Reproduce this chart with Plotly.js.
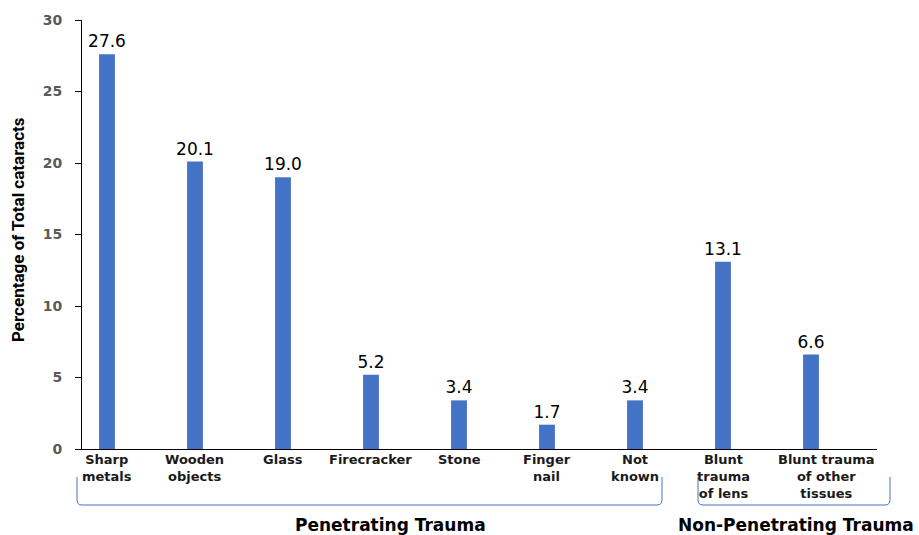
<!DOCTYPE html>
<html>
<head>
<meta charset="utf-8">
<script src="https://cdn.plot.ly/plotly-3.0.1.min.js"></script>
<style>html,body{margin:0;padding:0;background:#fff;}#chart{width:919px;height:535px;}</style>
</head>
<body>
<div id="chart"></div>
<script>
// ---- data ----
const categories = ["Sharp metals", "Wooden objects", "Glass", "Firecracker", "Stone", "Finger nail", "Not known", "Blunt trauma of lens", "Blunt trauma of other tissues"];
const categoryLabels = ["Sharp<br>metals", "Wooden<br>objects", "Glass", "Firecracker", "Stone", "Finger<br>nail", "Not<br>known", "Blunt<br>trauma<br>of lens", "Blunt trauma<br>of other<br>tissues"];
const percentages = [27.6, 20.1, 19.0, 5.2, 3.4, 1.7, 3.4, 13.1, 6.6];
const valueLabels = ["27.6", "20.1", "19.0", "5.2", "3.4", "1.7", "3.4", "13.1", "6.6"];
const groupNames = ["Penetrating Trauma", "Non-Penetrating Trauma"];
const yTicks = [0, 5, 10, 15, 20, 25, 30];

// ---- layout helpers (pixel -> paper) ----
const W = 919, H = 535, L = 82, R = 42, T = 20, B = 86;
const PW = W - L - R, PH = H - T - B;
const px = v => (v - L) / PW;
const py = v => (H - B - v) / PH;

function bracket(x0, x1, yTop, yBot, r) {
  return "M " + px(x0) + "," + py(yTop) +
    " L " + px(x0) + "," + py(yBot - r) +
    " Q " + px(x0) + "," + py(yBot) + " " + px(x0 + r) + "," + py(yBot) +
    " L " + px(x1 - r) + "," + py(yBot) +
    " Q " + px(x1) + "," + py(yBot) + " " + px(x1) + "," + py(yBot - r) +
    " L " + px(x1) + "," + py(yTop);
}

const xIdx = categories.map((c, i) => i);

const trace = {
  type: "bar",
  x: xIdx,
  y: percentages,
  width: 0.18,
  marker: {color: "#4472C4"},
  text: valueLabels,
  textposition: "outside",
  constraintext: "none",
  cliponaxis: false,
  textfont: {family: "DejaVu Sans, sans-serif", size: 17, color: "#000"},
  hoverinfo: "none"
};

const catAnn = categoryLabels.map((t, i) => ({
  text: t,
  x: i,
  xref: "x",
  y: py(450),
  yref: "paper",
  yanchor: "top",
  xanchor: "center",
  xshift: i === 8 ? 15 : 0,
  showarrow: false,
  align: "center",
  font: {family: "DejaVu Sans, sans-serif", size: 13, color: "#1a1a1a", weight: "bold"}
}));

const annotations = catAnn.concat([
  {text: "<b>" + groupNames[0] + "</b>", x: px(390), xref: "paper", y: py(536), yref: "paper",
   xanchor: "center", yanchor: "bottom", showarrow: false, borderpad: 0,
   font: {family: "DejaVu Sans, sans-serif", size: 17, color: "#000"}},
  {text: "<b>" + groupNames[1] + "</b>", x: px(796), xref: "paper", y: py(536), yref: "paper",
   xanchor: "center", yanchor: "bottom", showarrow: false, borderpad: 0,
   font: {family: "DejaVu Sans, sans-serif", size: 17, color: "#000"}},
  {text: "<b>Percentage of Total cataracts</b>", x: px(18), xref: "paper", y: py(230), yref: "paper",
   xanchor: "center", yanchor: "middle", textangle: -90, showarrow: false,
   font: {family: "Roboto, sans-serif", size: 17, color: "#000"}}
]);

const layout = {
  width: W, height: H,
  margin: {l: L, r: R, t: T, b: B, pad: 0},
  paper_bgcolor: "#fff",
  plot_bgcolor: "#fff",
  showlegend: false,
  xaxis: {
    range: [-0.284, 8.75],
    showticklabels: false,
    ticks: "",
    showgrid: false,
    zeroline: false,
    showline: true,
    linecolor: "#000",
    linewidth: 1,
    fixedrange: true
  },
  yaxis: {
    range: [0, 30],
    tickvals: yTicks,
    ticktext: yTicks.map(String),
    ticks: "outside",
    ticklen: 6,
    tickcolor: "#000",
    tickwidth: 1,
    ticklabelstandoff: 10,
    showgrid: false,
    zeroline: false,
    showline: true,
    linecolor: "#000",
    linewidth: 1,
    tickfont: {family: "DejaVu Sans, sans-serif", size: 14, color: "#595959", weight: "bold"},
    fixedrange: true
  },
  shapes: [
    {type: "path", xref: "paper", yref: "paper", path: bracket(77, 662, 477, 505, 5),
     line: {color: "#4472C4", width: 1}},
    {type: "path", xref: "paper", yref: "paper", path: bracket(698, 890, 477, 505, 5),
     line: {color: "#4472C4", width: 1}}
  ],
  annotations: annotations
};

Plotly.newPlot("chart", [trace], layout, {displayModeBar: false, staticPlot: true});
</script>
</body>
</html>
